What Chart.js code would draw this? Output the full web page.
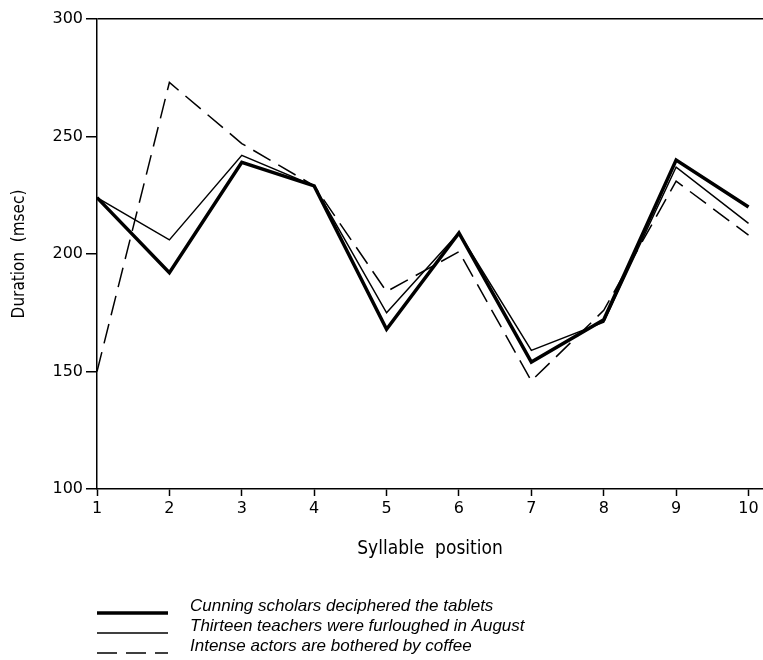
<!DOCTYPE html>
<html>
<head>
<meta charset="utf-8">
<script src="https://cdn.jsdelivr.net/npm/chart.js@4"></script>
<style>
  html, body { margin: 0; padding: 0; background: #fff; }
  #wrap { width: 763px; height: 660px; }
</style>
</head>
<body>
<div id="wrap"><canvas id="grafico"></canvas></div>
<script>
// Syllable positions on the x axis
const posicoes = [1, 2, 3, 4, 5, 6, 7, 8, 9, 10];
// Y axis ticks (msec)
const ticksY = [100, 150, 200, 250, 300];

// Series values
const cunning = [224, 192, 239, 229, 168, 209, 154, 172, 240, 220];
const thirteen = [224, 206, 242, 229, 175, 209, 159, 171, 237, 213];
const intense = [150, 273, 247, 229, 184, 201, 146, 176, 231, 208];

const rotulos = [
  'Cunning scholars deciphered the tablets',
  'Thirteen teachers were furloughed in August',
  'Intense actors are bothered by coffee'
];

const pontos = vals => vals.map((v, i) => ({ x: posicoes[i], y: v }));

// Legend drawn under the chart, one row per dataset
const legendaPlugin = {
  id: 'legenda',
  afterDraw(chart) {
    const ctx = chart.ctx;
    ctx.save();
    chart.data.datasets.forEach((ds, i) => {
      const y = 613 + i * 20;
      ctx.beginPath();
      ctx.strokeStyle = '#000';
      ctx.lineWidth = ds.borderWidth;
      ctx.setLineDash(ds.borderDash || []);
      ctx.moveTo(97, y);
      ctx.lineTo(168, y);
      ctx.stroke();
      ctx.setLineDash([]);
      ctx.fillStyle = '#000';
      ctx.font = 'italic 17px "Liberation Sans", sans-serif';
      ctx.textBaseline = 'alphabetic';
      ctx.fillText(ds.label, 190, y - 2);
    });
    ctx.restore();
  }
};

const ctx = document.getElementById('grafico').getContext('2d');
new Chart(ctx, {
  type: 'line',
  data: {
    datasets: [
      { label: rotulos[0], data: pontos(cunning), borderColor: '#000', borderWidth: 3.5, pointRadius: 0, tension: 0 },
      { label: rotulos[1], data: pontos(thirteen), borderColor: '#000', borderWidth: 1.5, pointRadius: 0, tension: 0 },
      { label: rotulos[2], data: pontos(intense), borderColor: '#000', borderWidth: 1.5, borderDash: [20, 9], pointRadius: 0, tension: 0 }
    ]
  },
  plugins: [legendaPlugin],
  options: {
    responsive: true,
    maintainAspectRatio: false,
    animation: false,
    layout: { padding: { top: 19, right: 0, bottom: 100, left: 0 } },
    plugins: {
      legend: { display: false },
      tooltip: { enabled: false }
    },
    scales: {
      x: {
        type: 'linear',
        min: 1,
        max: 10.2,
        afterBuildTicks: s => { s.ticks = posicoes.map(v => ({ value: v })); },
        afterFit: s => { s.height = 71; },
        border: { display: true, color: '#000', width: 1.5 },
        grid: { drawOnChartArea: false, drawTicks: true, tickLength: 7, tickColor: '#000', tickWidth: 1.5 },
        ticks: { color: '#000', padding: 3, font: { family: 'DejaVu Sans', size: 16 } },
        title: {
          display: true,
          text: 'Syllable  position',
          color: '#000',
          padding: { top: 12, bottom: 0 },
          font: { family: '"DejaVu Sans Condensed", "Liberation Sans Narrow", sans-serif', size: 19 }
        }
      },
      y: {
        min: 100,
        max: 300,
        afterBuildTicks: s => { s.ticks = ticksY.map(v => ({ value: v })); },
        afterFit: s => { s.width = 97; },
        border: { display: true, color: '#000', width: 1.5 },
        grid: {
          color: c => (c.tick && c.tick.value === 300 ? '#000' : 'rgba(0,0,0,0)'),
          lineWidth: 1.5,
          drawTicks: true,
          tickLength: 11,
          tickColor: '#000',
          tickWidth: 1.5
        },
        ticks: { color: '#000', padding: 3, font: { family: 'DejaVu Sans', size: 16 } },
        title: {
          display: true,
          text: 'Duration  (msec)',
          color: '#000',
          padding: { top: 9, bottom: 0 },
          font: { family: '"DejaVu Sans Condensed", "Liberation Sans Narrow", sans-serif', size: 17 }
        }
      }
    }
  }
});
</script>
</body>
</html>
